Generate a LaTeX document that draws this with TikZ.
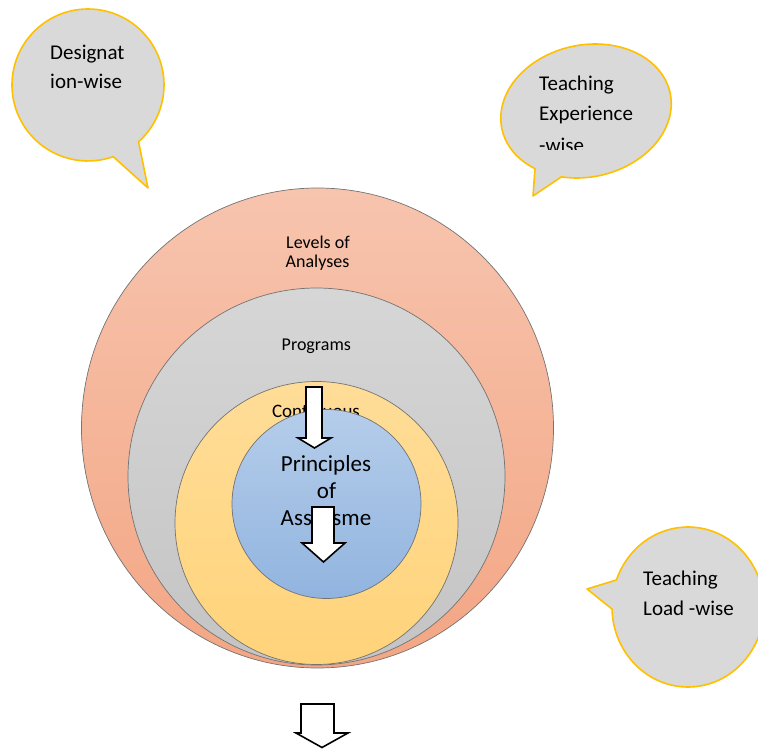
\documentclass[tikz,border=0pt]{standalone}
\usepackage{fontspec}
\setmainfont{Carlito}
\definecolor{salmonT}{RGB}{247,196,174}
\definecolor{salmonB}{RGB}{243,166,132}
\definecolor{grayT}{RGB}{214,214,214}
\definecolor{grayB}{RGB}{196,196,196}
\definecolor{yelT}{RGB}{255,221,152}
\definecolor{yelB}{RGB}{255,211,122}
\definecolor{bluT}{RGB}{181,205,234}
\definecolor{bluB}{RGB}{145,180,223}
\definecolor{callfill}{RGB}{217,217,217}
\definecolor{callline}{RGB}{255,192,0}
\begin{document}
\begin{tikzpicture}[x=1pt,y=1pt,
  ring/.style={draw=black!55, line width=0.7pt},
  callout/.style={draw=callline, line width=1.6pt, fill=callfill, line join=round},
  blockarrow/.style={draw=black, fill=white, line width=1.6pt, line join=miter},
  lbl/.style={inner sep=0pt, text=black},
  callfont/.style={font=\fontsize{21}{29}\selectfont},
  ringfont/.style={font=\fontsize{18}{20}\selectfont}]
\useasboundingbox (0,0) rectangle (758,-749);
\clip (0,0) rectangle (758,-749);

% ---------- callouts ----------
\coordinate (dc) at (88,-85);
\coordinate (dtip) at (148,-188);
\draw[callout] ([shift={(311.7:76)}]dc) arc[start angle=311.7, end angle=649.4, radius=76] -- (dtip) -- cycle;
\node[lbl, callfont, anchor=base west] (d1) at (50,-60) {Designat};
\node[lbl, callfont, anchor=base west] (d2) at (50,-89) {ion-wise};

\begin{scope}[shift={(586,-111)}, rotate=12]
  \coordinate (ec) at (0,0);
  \coordinate (etip) at (-69.5,-72.1);
  \draw[callout] ([shift={(244:86 and 66)}]ec) arc[start angle=244, end angle=584, x radius=86, y radius=66] -- (etip) -- cycle;
\end{scope}
\node[lbl, callfont, anchor=base west] (e1) at (539,-91) {Teaching};
\node[lbl, callfont, anchor=base west] (e2) at (539,-121) {Experience};
\begin{scope}
  \clip (530,-128) rectangle (680,-149.5);
  \node[lbl, callfont, anchor=base west] (e3) at (539,-153) {-wise};
\end{scope}

\coordinate (lc) at (688,-607);
\coordinate (ltip) at (587,-589);
\draw[callout] ([shift={(181.5:76 and 80)}]lc) arc[start angle=181.5, end angle=520.2, x radius=76, y radius=80] -- (ltip) -- cycle;
\node[lbl, callfont, anchor=base west] (l1) at (643,-585) {Teaching};
\node[lbl, callfont, anchor=base west] (l2) at (643,-615) {Load -wise};

% ---------- nested circles ----------
\coordinate (c1) at (317.5,-428);
\draw[ring, top color=salmonT, bottom color=salmonB] (c1) ellipse[x radius=236, y radius=240];
\node[lbl, ringfont, anchor=base] (lv1) at (318,-248.3) {Levels of};
\node[lbl, ringfont, anchor=base] (lv2) at (317.5,-267.7) {Analyses};

\coordinate (c2) at (316.5,-476.5);
\draw[ring, top color=grayT, bottom color=grayB] (c2) circle[radius=188.5];
\node[lbl, ringfont, anchor=base] (pg) at (316.3,-350) {Programs};

\coordinate (c3) at (316.5,-523);
\draw[ring, top color=yelT, bottom color=yelB] (c3) circle[radius=141.5];
\node[lbl, font=\fontsize{19}{22}\selectfont, anchor=base] (ct) at (316,-417) {Continuous};

\coordinate (c4) at (326.5,-504);
\draw[ring, top color=bluT, bottom color=bluB] (c4) circle[radius=94.5];
\node[lbl, font=\fontsize{23}{26}\selectfont, anchor=base] (p1) at (326,-471.7) {Principles};
\node[lbl, font=\fontsize{23}{26}\selectfont, anchor=base] (p2) at (326.5,-498.3) {of};
\node[lbl, font=\fontsize{23}{26}\selectfont, anchor=base] (p3) at (326,-525) {Assessme};

% ---------- block arrows ----------
\draw[blockarrow] (306,-387) -- (322,-387) -- (322,-438) -- (331,-438) -- (314.5,-448) -- (298,-438) -- (306,-438) -- cycle;
\draw[blockarrow] (312,-507) -- (334,-507) -- (334,-543) -- (345,-543) -- (323.5,-562) -- (302,-543) -- (312,-543) -- cycle;
\draw[blockarrow] (301,-704) -- (334,-704) -- (334,-733) -- (348,-733) -- (322,-747.5) -- (296,-733) -- (301,-733) -- cycle;
\end{tikzpicture}
\end{document}
